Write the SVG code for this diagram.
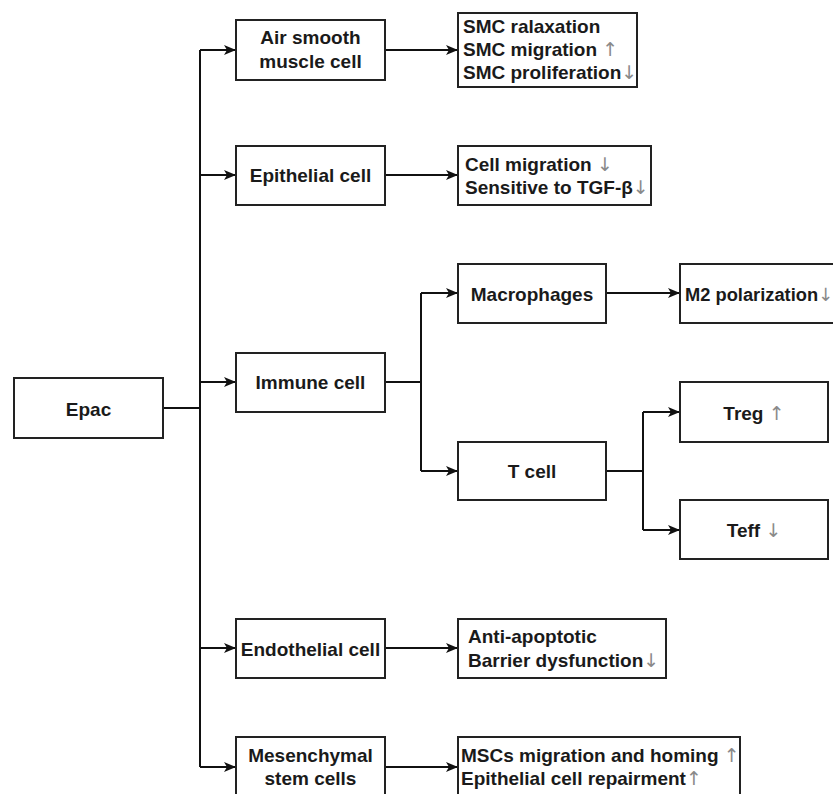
<svg xmlns="http://www.w3.org/2000/svg" width="833" height="794" viewBox="0 0 833 794">
<defs>
<marker id="ah" viewBox="0 0 12 10" refX="12" refY="5" markerWidth="12" markerHeight="10" markerUnits="userSpaceOnUse" orient="auto">
<path d="M0,0 L12,5 L0,10 L3,5 Z" fill="#111"/>
</marker>
<style>
.box{fill:#fff;stroke:#222;stroke-width:2}
.t{font-family:"Liberation Sans",Arial,sans-serif;font-weight:bold;font-size:19px;fill:#1a1a1a}
.c{text-anchor:middle}
.ar{font-family:"DejaVu Sans",sans-serif;font-weight:normal;fill:#8a8a8a}
.ln{fill:none;stroke:#111;stroke-width:2}
.a{marker-end:url(#ah)}
</style>
</defs>
<rect width="833" height="794" fill="#fff"/>
<g id="connectors">
<path class="ln" d="M163,408 H200" stroke-width="3"/>
<path class="ln" d="M200,50 V767"/>
<path class="ln a" d="M200,50 H236"/>
<path class="ln a" d="M200,175 H236"/>
<path class="ln a" d="M200,382 H236"/>
<path class="ln a" d="M200,648 H236"/>
<path class="ln a" d="M200,767 H236"/>
<path class="ln a" d="M385,50 H458"/>
<path class="ln a" d="M385,175 H458"/>
<path class="ln" d="M385,382 H421 M421,293 V471"/>
<path class="ln a" d="M421,293 H458"/>
<path class="ln a" d="M421,471 H458"/>
<path class="ln a" d="M606,293 H680"/>
<path class="ln" d="M606,471 H643 M643,412 V530"/>
<path class="ln a" d="M643,412 H680"/>
<path class="ln a" d="M643,530 H680"/>
<path class="ln a" d="M385,648 H458"/>
<path class="ln a" d="M385,767 H458"/>
</g>
<g id="epac"><rect class="box" x="14" y="378" width="149" height="60"/><text class="t c" x="88.5" y="416">Epac</text></g>
<g id="asm"><rect class="box" x="236" y="20" width="149" height="60"/><text class="t c" x="310.5" y="44">Air smooth</text><text class="t c" x="310.5" y="68">muscle cell</text></g>
<g id="smc"><rect class="box" x="458" y="13" width="179" height="74"/><text class="t" x="463" y="33">SMC ralaxation</text><text class="t" x="463" y="56">SMC migration <tspan class="ar">↑</tspan></text><text class="t" x="463" y="79">SMC proliferation<tspan class="ar">↓</tspan></text></g>
<g id="epi"><rect class="box" x="236" y="146" width="149" height="59"/><text class="t c" x="310.5" y="182">Epithelial cell</text></g>
<g id="epi-out"><rect class="box" x="458" y="146" width="193" height="59"/><text class="t" x="465" y="171">Cell migration <tspan class="ar">↓</tspan></text><text class="t" x="465" y="194">Sensitive to TGF-β<tspan class="ar">↓</tspan></text></g>
<g id="immune"><rect class="box" x="236" y="353" width="149" height="59"/><text class="t c" x="310.5" y="389">Immune cell</text></g>
<g id="macro"><rect class="box" x="458" y="264" width="148" height="59"/><text class="t c" x="532" y="301">Macrophages</text></g>
<g id="m2"><rect class="box" x="680" y="264" width="170" height="59"/><text class="t" x="685" y="301" style="font-size:18.3px">M2 polarization<tspan class="ar">↓</tspan></text></g>
<g id="tcell"><rect class="box" x="458" y="442" width="148" height="58"/><text class="t c" x="532" y="478">T cell</text></g>
<g id="treg"><rect class="box" x="680" y="382" width="148" height="60"/><text class="t c" x="754" y="420">Treg  <tspan class="ar">↑</tspan></text></g>
<g id="teff"><rect class="box" x="680" y="500" width="148" height="59"/><text class="t c" x="754" y="537">Teff <tspan class="ar">↓</tspan></text></g>
<g id="endo"><rect class="box" x="236" y="619" width="149" height="59"/><text class="t c" x="310.5" y="656">Endothelial cell</text></g>
<g id="endo-out"><rect class="box" x="458" y="619" width="208" height="59"/><text class="t" x="468" y="643">Anti-apoptotic</text><text class="t" x="468" y="667">Barrier dysfunction<tspan class="ar">↓</tspan></text></g>
<g id="msc"><rect class="box" x="236" y="737" width="149" height="70"/><text class="t c" x="310.5" y="762">Mesenchymal</text><text class="t c" x="310.5" y="785">stem cells</text></g>
<g id="msc-out"><rect class="box" x="458" y="737" width="282" height="70"/><text class="t" x="461" y="762">MSCs migration and homing <tspan class="ar">↑</tspan></text><text class="t" x="461" y="785">Epithelial cell repairment<tspan class="ar">↑</tspan></text></g>
</svg>
